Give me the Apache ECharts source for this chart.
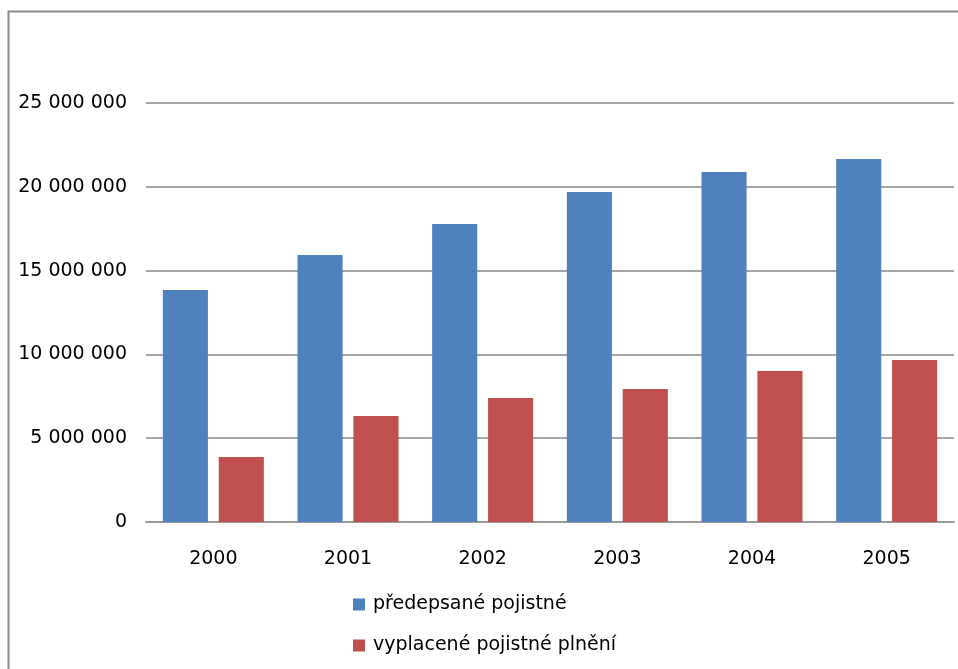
<!DOCTYPE html>
<html>
<head>
<meta charset="utf-8">
<script src="https://cdn.jsdelivr.net/npm/echarts@6/dist/echarts.min.js"></script>
<style>
  html, body { margin: 0; padding: 0; background: #fff; }
  #chart { width: 958px; height: 669px; }
</style>
</head>
<body>
<div id="chart"></div>
<script>
  var years = ['2000', '2001', '2002', '2003', '2004', '2005'];
  var predepsane = [13840000, 15930000, 17780000, 19690000, 20880000, 21660000];
  var vyplacene = [3880000, 6320000, 7400000, 7940000, 9010000, 9670000];
  var seriesNames = ['předepsané pojistné', 'vyplacené pojistné plnění'];

  var myChart = echarts.init(document.getElementById('chart'));
  var font = 'DejaVu Sans';

  myChart.setOption({
    animation: false,
    textStyle: { fontFamily: font },
    graphic: [{
      type: 'rect',
      shape: { x: 8.5, y: 11.5, width: 1000, height: 700 },
      style: { fill: 'none', stroke: '#8a8a8a', lineWidth: 2 },
      silent: true
    }],
    grid: { left: 146, right: 4, top: 103, bottom: 147 },
    legend: {
      orient: 'vertical',
      left: 353,
      top: 595,
      padding: 0,
      itemWidth: 12,
      itemHeight: 12,
      itemGap: 22,
      icon: 'rect',
      textStyle: { fontFamily: font, fontSize: 19, color: '#000', padding: [0, 0, 0, 3] },
      data: seriesNames
    },
    xAxis: {
      type: 'category',
      data: years,
      axisLine: { lineStyle: { color: '#9a9a9a', width: 2 } },
      axisTick: { show: false },
      axisLabel: { fontFamily: font, fontSize: 19, color: '#000', margin: 28 }
    },
    yAxis: {
      type: 'value',
      min: 0,
      max: 25000000,
      interval: 5000000,
      axisLine: { show: false },
      axisTick: { show: false },
      splitLine: { lineStyle: { color: '#a6a6a6', width: 2 } },
      axisLabel: {
        fontFamily: font, fontSize: 19, color: '#000', margin: 19,
        formatter: function (v) {
          return String(v).replace(/\B(?=(\d{3})+(?!\d))/g, ' ');
        }
      }
    },
    series: [{
      name: seriesNames[0],
      type: 'bar',
      data: predepsane,
      itemStyle: { color: '#4f81bd' },
      barCategoryGap: '25%',
      barGap: '24%'
    }, {
      name: seriesNames[1],
      type: 'bar',
      data: vyplacene,
      itemStyle: { color: '#c0504d' }
    }]
  });
</script>
</body>
</html>
